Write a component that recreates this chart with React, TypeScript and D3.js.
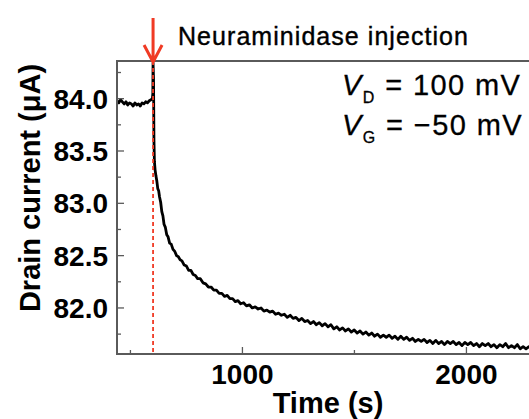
import { useEffect, useRef } from 'react'
import * as d3 from 'd3'

// time (s)
const times = [
    440, 448, 456, 464, 472, 480, 488, 496, 504, 512, 520, 528, 536, 544, 552, 560, 568, 576, 584, 592, 598,
    600, 601, 603, 605, 607, 610, 614, 618, 622, 626, 630, 635, 640, 645, 650, 656, 662, 668, 675, 682, 690,
    698, 706, 714, 722, 730, 740, 750, 760, 770, 780, 790, 800, 812, 824, 836, 848, 860, 872, 884, 896, 908,
    920, 932, 944, 956, 968, 980, 992, 1005, 1018, 1031, 1044, 1057, 1070, 1083, 1096, 1109, 1122, 1135, 1148,
    1161, 1174, 1187, 1200, 1213, 1226, 1239, 1252, 1265, 1278, 1291, 1304, 1317, 1330, 1343, 1356, 1369, 1382,
    1395, 1408, 1421, 1434, 1447, 1460, 1473, 1486, 1499, 1512, 1525, 1538, 1551, 1564, 1577, 1590, 1603, 1616,
    1629, 1642, 1655, 1668, 1681, 1694, 1707, 1720, 1733, 1746, 1759, 1772, 1785, 1798, 1811, 1824, 1837, 1850,
    1863, 1876, 1889, 1902, 1915, 1928, 1941, 1954, 1967, 1980, 1993, 2006, 2019, 2032, 2045, 2058, 2071, 2084,
    2097, 2110, 2123, 2136, 2149, 2162, 2175, 2188, 2201, 2214, 2227, 2240, 2253, 2266, 2279, 2292, 2305, 2320,
]
// drain current (µA)
const current = [
    83.98, 83.96, 83.99, 83.97, 83.95, 83.97, 83.94, 83.96, 83.95, 83.93, 83.96, 83.94, 83.95, 83.93, 83.96, 83.95, 83.97, 83.96, 83.98, 83.99, 84.0,
    84.05, 84.34, 84.2, 83.6, 83.4, 83.32, 83.26, 83.21, 83.14, 83.12, 83.06, 83.01, 82.92, 82.88, 82.8, 82.77, 82.7, 82.68, 82.62, 82.61, 82.56,
    82.54, 82.5, 82.49, 82.46, 82.45, 82.41, 82.4, 82.36, 82.36, 82.32, 82.31, 82.28, 82.28, 82.24, 82.23, 82.2, 82.2, 82.17, 82.17, 82.14, 82.14,
    82.11, 82.12, 82.09, 82.09, 82.06, 82.07, 82.04, 82.05, 82.02, 82.03, 82.0, 82.01, 81.99, 82.0, 81.97, 81.98, 81.96, 81.97, 81.94,
    81.95, 81.93, 81.94, 81.91, 81.93, 81.9, 81.91, 81.88, 81.9, 81.87, 81.88, 81.85, 81.87, 81.84, 81.86, 81.83, 81.85, 81.82,
    81.84, 81.8, 81.82, 81.79, 81.81, 81.78, 81.8, 81.77, 81.79, 81.76, 81.78, 81.75, 81.77, 81.74, 81.76, 81.73, 81.75, 81.72,
    81.74, 81.72, 81.74, 81.71, 81.73, 81.7, 81.73, 81.7, 81.72, 81.69, 81.71, 81.68, 81.7, 81.68, 81.7, 81.67, 81.69, 81.66,
    81.69, 81.66, 81.68, 81.65, 81.68, 81.66, 81.68, 81.65, 81.67, 81.64, 81.67, 81.65, 81.67, 81.64, 81.66, 81.63, 81.66, 81.64,
    81.66, 81.63, 81.65, 81.62, 81.65, 81.63, 81.66, 81.62, 81.64, 81.62, 81.65, 81.61, 81.63, 81.61, 81.63, 81.6, 81.62, 81.61,
]
const injectionTime = 601
const xMajor = [1000, 2000]
const xMinor = [500, 1500]
const yMajor = [82.0, 82.5, 83.0, 83.5, 84.0]
const yMinor = [81.75, 82.25, 82.75, 83.25, 83.75, 84.25]

const App = () => {
    const ref = useRef<SVGSVGElement>(null)

    useEffect(() => {
        document.body.style.margin = '0'
        const width = 529
        const height = 419
        const left = 117
        const top = 61
        const bottom = 354
        const font = "'Liberation Sans', Arial, sans-serif"
        const axisColor = '#5a5a5a'
        const red = '#f03a24'

        const x = d3.scaleLinear().domain([440, 2320]).range([left, left + 1880 * 0.224])
        const y = d3.scaleLinear().domain([81.56, 84.36]).range([bottom, top])

        const svg = d3.select(ref.current)
        svg.selectAll('*').remove()
        svg.attr('width', width).attr('height', height).style('display', 'block')

        const clip = svg.append('clipPath').attr('id', 'plot-clip')
        clip.append('rect').attr('x', left).attr('y', top).attr('width', width - left).attr('height', bottom - top)

        // trace
        const pts = times.map((t, i) => [t, current[i]] as [number, number])
        svg.append('path')
            .datum(pts)
            .attr('clip-path', 'url(#plot-clip)')
            .attr('fill', 'none')
            .attr('stroke', '#000')
            .attr('stroke-width', 2.8)
            .attr('stroke-linejoin', 'round')
            .attr('d', d3.line().x((d) => x(d[0])).y((d) => y(d[1])) as any)

        // injection marker
        svg.append('line')
            .attr('x1', x(injectionTime)).attr('x2', x(injectionTime))
            .attr('y1', top).attr('y2', bottom)
            .attr('stroke', red)
            .attr('stroke-width', 1.8)
            .attr('stroke-dasharray', '4,3')

        // frame
        const g = svg.append('g').attr('stroke', axisColor).attr('stroke-width', 2).attr('fill', 'none')
        g.append('path').attr('d', `M${width},${top}H${left}V${bottom}H${width}`)

        // ticks (inward)
        const t = svg.append('g').attr('stroke', axisColor).attr('stroke-width', 1.3)
        xMajor.forEach((v) => t.append('line').attr('x1', x(v)).attr('x2', x(v)).attr('y1', bottom).attr('y2', bottom - 7))
        xMinor.forEach((v) => t.append('line').attr('x1', x(v)).attr('x2', x(v)).attr('y1', bottom).attr('y2', bottom - 4))
        yMajor.forEach((v) => t.append('line').attr('x1', left).attr('x2', left + 7).attr('y1', y(v)).attr('y2', y(v)))
        yMinor.forEach((v) => t.append('line').attr('x1', left).attr('x2', left + 4).attr('y1', y(v)).attr('y2', y(v)))

        // tick labels
        svg.append('g')
            .selectAll('text')
            .data(yMajor)
            .join('text')
            .attr('x', left - 9)
            .attr('y', (d) => y(d))
            .attr('dy', '0.36em')
            .attr('text-anchor', 'end')
            .attr('font-family', font)
            .attr('font-weight', 'bold')
            .attr('font-size', 28)
            .text((d) => d.toFixed(1))

        svg.append('g')
            .selectAll('text')
            .data(xMajor)
            .join('text')
            .attr('x', (d) => x(d))
            .attr('y', 384)
            .attr('text-anchor', 'middle')
            .attr('font-family', font)
            .attr('font-weight', 'bold')
            .attr('font-size', 28)
            .text((d) => String(d))

        // axis titles
        svg.append('text')
            .attr('transform', `translate(40,188) rotate(-90)`)
            .attr('text-anchor', 'middle')
            .attr('font-family', font)
            .attr('font-weight', 'bold')
            .attr('font-size', 29)
            .text('Drain current (μA)')

        svg.append('text')
            .attr('x', 328)
            .attr('y', 413)
            .attr('text-anchor', 'middle')
            .attr('font-family', font)
            .attr('font-weight', 'bold')
            .attr('font-size', 29)
            .text('Time (s)')

        // arrow
        const ax = x(injectionTime)
        svg.append('path')
            .attr('d', `M${ax},18V61M${ax - 9},45L${ax},62L${ax + 9},45`)
            .attr('fill', 'none')
            .attr('stroke', red)
            .attr('stroke-width', 3)

        svg.append('text')
            .attr('x', 178)
            .attr('y', 45)
            .attr('font-family', font)
            .attr('font-size', 25)
            .attr('letter-spacing', 1.05)
            .attr('stroke', '#000')
            .attr('stroke-width', 0.4)
            .text('Neuraminidase injection')

        // conditions
        const cond = [
            { sub: 'D', rest: ' = 100 mV', yb: 95 },
            { sub: 'G', rest: ' = −50 mV', yb: 135 },
        ]
        cond.forEach((c) => {
            const tx = svg.append('text')
                .attr('x', 342)
                .attr('y', c.yb)
                .attr('font-family', font)
                .attr('font-size', 29)
                .attr('letter-spacing', 1.4)
                .attr('stroke', '#000')
                .attr('stroke-width', 0.3)
            tx.append('tspan').attr('font-style', 'italic').text('V')
            tx.append('tspan').attr('font-size', 16).attr('dy', 8).text(c.sub)
            tx.append('tspan').attr('dy', -8).text(c.rest)
        })
    }, [])

    return <svg ref={ref} />
}

export default App
